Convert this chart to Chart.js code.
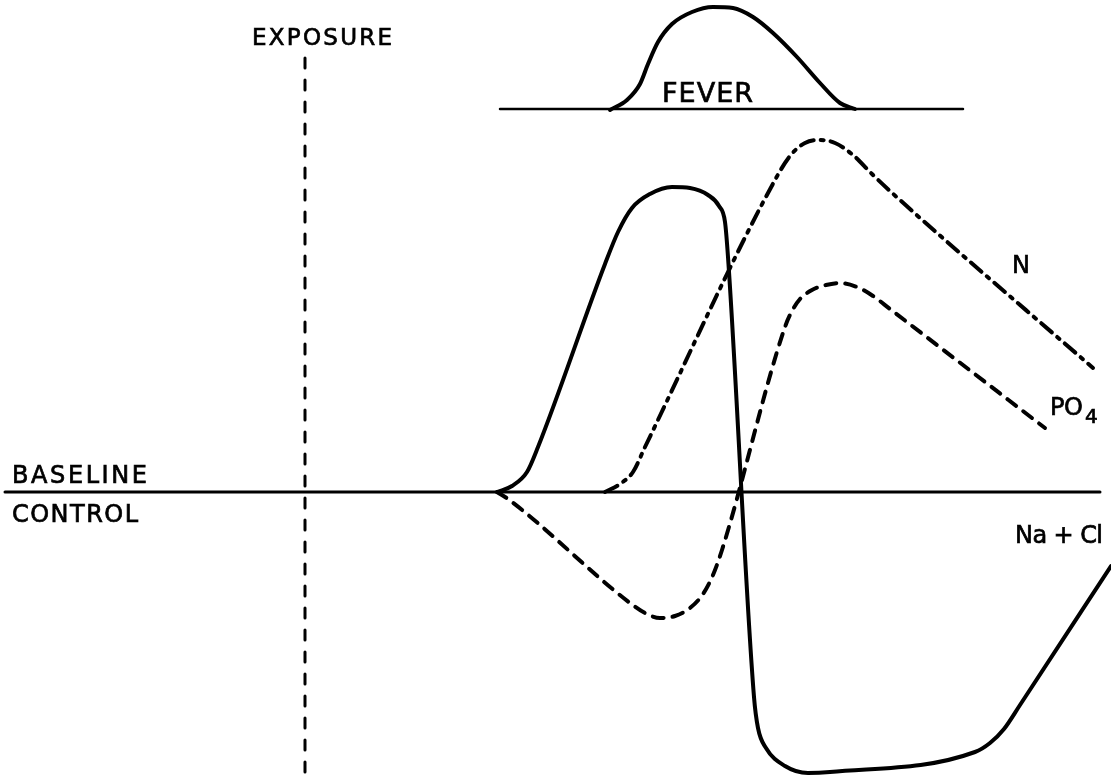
<!DOCTYPE html>
<html>
<head>
<meta charset="utf-8">
<script src="https://cdn.jsdelivr.net/npm/chart.js@4"></script>
<style>
  html, body { margin: 0; padding: 0; background: #fff; }
  #wrap { width: 1111px; height: 779px; }
</style>
</head>
<body>
<div id="wrap"><canvas id="chart" width="1111" height="779"></canvas></div>
<script>
// time runs left to right, values are deviation from the control baseline (0)
const baselineSpan = [5, 1100];
const exposureTime = 305;
const exposureSpan = [434, -287];

const feverLevel = 383;
const feverSpan = [500, 963];
const feverCurve = [
  [610, 382], [627, 392], [640, 408], [648, 428], [658, 450], [672, 468],
  [692, 480], [713, 485], [733, 484], [753, 475], [773, 459], [797, 435],
  [820, 409], [840, 389], [855, 383]
];

const naClCurve = [
  [497, 0], [512, 6], [527, 20], [538, 45], [605, 228], [618, 260],
  [632, 284], [650, 298], [672, 305], [690, 304], [708, 297], [719, 286],
  [725, 270], [728, 235], [754, -205], [758, -236], [766, -256],
  [785, -274], [808, -281], [830, -280], [975, -260], [990, -251],
  [1004, -237], [1020, -213], [1111, -74]
];

const po4Curve = [
  [497, 0], [508, -7], [630, -111], [645, -121], [660, -126], [675, -124],
  [690, -116], [703, -102], [713, -83], [722, -58], [785, 165], [792, 181],
  [800, 193], [812, 202], [826, 207], [840, 209], [857, 205], [873, 196],
  [890, 183], [1045, 64]
];

const nCurve = [
  [605, 0], [620, 8], [633, 20], [645, 45], [775, 312], [790, 336],
  [805, 349], [820, 352], [835, 349], [853, 337], [872, 318], [890, 301],
  [1093, 124]
];

function pts(arr) {
  return arr.map(p => ({ x: p[0], y: p[1] }));
}

function line(data, width, dash, smooth) {
  return {
    data: data,
    showLine: true,
    borderColor: "#000",
    borderWidth: width,
    borderDash: dash || [],
    pointRadius: 0,
    fill: false,
    cubicInterpolationMode: smooth ? "monotone" : "default",
    tension: 0,
    borderCapStyle: "round",
    borderJoinStyle: "round",
  };
}

// draw a string so that it spans a given width (hand lettering is spaced out)
function spaced(ctx, text, left, base, width) {
  const chars = text.split("");
  const total = chars.reduce((s, c) => s + ctx.measureText(c).width, 0);
  const gap = chars.length > 1 ? (width - total) / (chars.length - 1) : 0;
  let x = left;
  for (const c of chars) {
    ctx.fillText(c, x, base);
    ctx.strokeText(c, x, base);
    x += ctx.measureText(c).width + gap;
  }
}

const labelPlugin = {
  id: "labels",
  afterDatasetsDraw(chart) {
    const ctx = chart.ctx;
    ctx.save();
    ctx.fillStyle = "#000";
    ctx.strokeStyle = "#000";
    ctx.lineWidth = 0.7;
    ctx.textAlign = "left";
    ctx.textBaseline = "alphabetic";

    ctx.font = "23px 'DejaVu Sans'";
    spaced(ctx, "EXPOSURE", 252, 45, 140);

    ctx.font = "27px 'DejaVu Sans'";
    spaced(ctx, "FEVER", 662, 102, 91);

    ctx.font = "24px 'DejaVu Sans'";
    spaced(ctx, "BASELINE", 12, 483, 135);
    spaced(ctx, "CONTROL", 12, 522, 126);
    spaced(ctx, "N", 1012, 273, 16);
    spaced(ctx, "PO", 1050, 415, 33);
    spaced(ctx, "Na + Cl", 1015, 543, 88);

    ctx.font = "20px 'DejaVu Sans'";
    spaced(ctx, "4", 1085, 423, 13);
    ctx.restore();
  },
};

new Chart(document.getElementById("chart").getContext("2d"), {
  type: "scatter",
  data: {
    datasets: [
      line([{ x: baselineSpan[0], y: 0 }, { x: baselineSpan[1], y: 0 }], 3),
      line([{ x: exposureTime, y: exposureSpan[0] }, { x: exposureTime, y: exposureSpan[1] }], 3, [10, 12]),
      line([{ x: feverSpan[0], y: feverLevel }, { x: feverSpan[1], y: feverLevel }], 2.5),
      line(pts(feverCurve), 4, null, true),
      line(pts(naClCurve), 4, null, true),
      line(pts(po4Curve), 4, [11, 9], true),
      line(pts(nCurve), 4, [14, 7, 3, 7], true),
    ],
  },
  options: {
    responsive: false,
    animation: false,
    layout: { padding: 0 },
    scales: {
      x: { type: "linear", min: 0, max: 1111, display: false },
      y: { type: "linear", min: -287, max: 492, display: false },
    },
    plugins: {
      legend: { display: false },
      tooltip: { enabled: false },
    },
  },
  plugins: [labelPlugin],
});
</script>
</body>
</html>
